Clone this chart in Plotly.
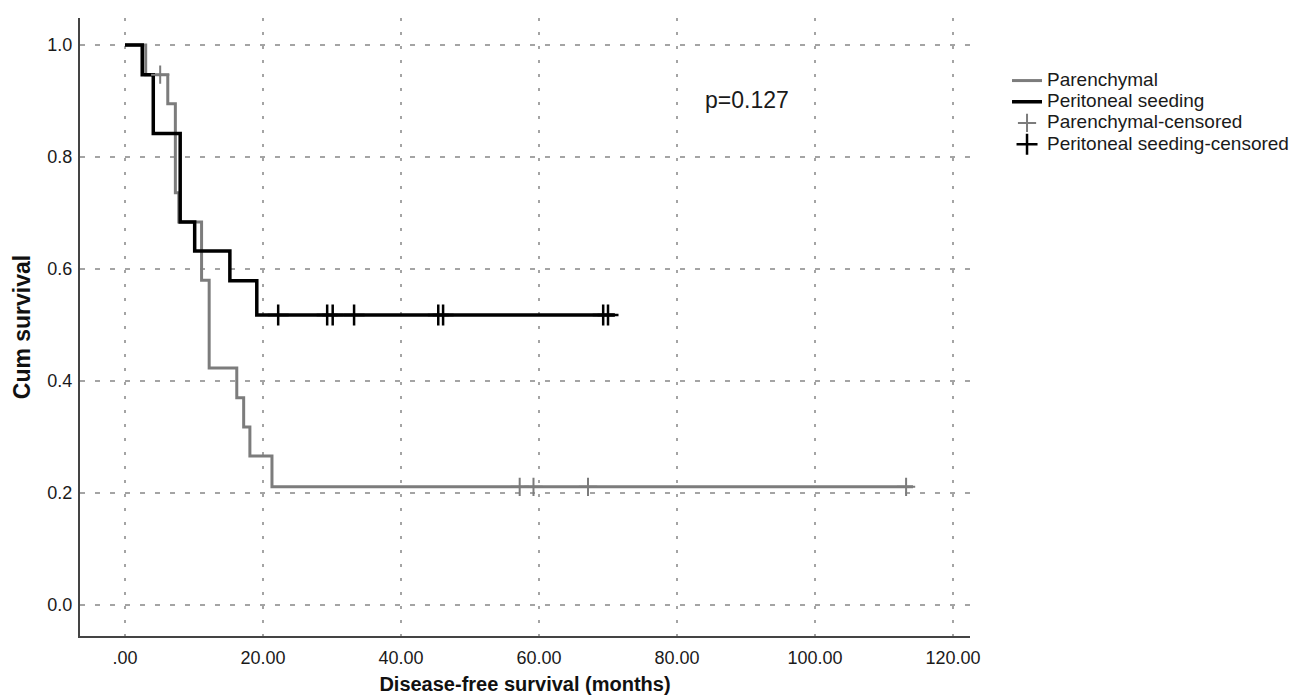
import plotly.graph_objects as go

# Parenchymal group (Kaplan-Meier steps)
par_times = [0.0, 3.0, 6.2, 7.3, 7.8, 11.1, 12.2, 16.2, 17.2, 18.1, 21.3]
par_surv = [1.0, 0.947, 0.895, 0.736, 0.684, 0.580, 0.423, 0.370, 0.318, 0.266, 0.211]
par_end = 114.2
par_cens_t = [5.1, 57.2, 59.2, 67.1, 113.2]
par_cens_s = [0.947, 0.211, 0.211, 0.211, 0.211]

# Peritoneal seeding group
per_times = [0.0, 2.5, 4.1, 8.0, 10.1, 15.2, 19.1]
per_surv = [1.0, 0.947, 0.842, 0.684, 0.632, 0.579, 0.518]
per_end = 71.0
per_cens_t = [22.2, 29.3, 30.1, 33.2, 45.4, 46.1, 69.3, 70.0]
per_cens_s = [0.518] * 8

x_ticks = [0, 20, 40, 60, 80, 100, 120]
x_labels = [".00", "20.00", "40.00", "60.00", "80.00", "100.00", "120.00"]
y_ticks = [0.0, 0.2, 0.4, 0.6, 0.8, 1.0]
y_labels = ["0.0", "0.2", "0.4", "0.6", "0.8", "1.0"]

GRAY = "#7c7c7c"
BLACK = "#000000"
FONT = "Liberation Sans"
TXT = "#1a1a1a"


def legend_name(s):
    return "<span style='font-size:19px'>" + s + "</span>"


fig = go.Figure()
fig.add_trace(go.Scatter(x=par_times + [par_end], y=par_surv + [par_surv[-1]],
                         mode="lines", line=dict(color=GRAY, width=3, shape="hv"),
                         name=legend_name("Parenchymal")))
fig.add_trace(go.Scatter(x=per_times + [per_end], y=per_surv + [per_surv[-1]],
                         mode="lines", line=dict(color=BLACK, width=3.5, shape="hv"),
                         name=legend_name("Peritoneal seeding")))
fig.add_trace(go.Scatter(x=par_cens_t, y=par_cens_s, mode="markers",
                         marker=dict(symbol="cross-thin", size=13,
                                     line=dict(color=GRAY, width=2)),
                         name=legend_name("Parenchymal-censored")))
fig.add_trace(go.Scatter(x=per_cens_t, y=per_cens_s, mode="markers",
                         marker=dict(symbol="cross-thin", size=15,
                                     line=dict(color=BLACK, width=2.5)),
                         name=legend_name("Peritoneal seeding-censored")))

fig.add_annotation(x=90.1, y=0.902, text="p=0.127", showarrow=False,
                   font=dict(family=FONT, size=23, color=TXT))

# page body has an 8px default margin, margins compensate for it
fig.update_layout(
    width=1314, height=696,
    margin=dict(l=72, r=352, t=10, b=68),
    plot_bgcolor="white", paper_bgcolor="white",
    font=dict(family=FONT, color=TXT),
    showlegend=True,
    legend=dict(x=1.0416, y=0.924, xanchor="left", yanchor="top",
                font=dict(family=FONT, size=14, color=TXT),
                tracegroupgap=0, itemwidth=30, bgcolor="rgba(0,0,0,0)"),
)
fig.update_xaxes(range=[-6.52, 122.46], tickvals=x_ticks, ticktext=x_labels,
                 automargin=False,
                 showgrid=True, gridcolor="#a4a4a4", griddash="3px,11px", gridwidth=1.5,
                 zeroline=False, showline=True, linecolor="#444", linewidth=2,
                 ticks="outside", ticklen=4, tickcolor="rgba(0,0,0,0)",
                 tickfont=dict(family=FONT, size=18, color=TXT),
                 title=dict(text="<b>Disease-free survival (months)</b>",
                            font=dict(family=FONT, size=20, color="#111"), standoff=10))
fig.update_yaxes(range=[-0.0554, 1.0482], tickvals=y_ticks, ticktext=y_labels,
                 automargin=False,
                 showgrid=True, gridcolor="#a4a4a4", griddash="5px,10px", gridwidth=1.5,
                 zeroline=False, showline=True, linecolor="#444", linewidth=2,
                 ticks="outside", ticklen=2, tickcolor="rgba(0,0,0,0)",
                 tickfont=dict(family=FONT, size=18, color=TXT),
                 title=dict(text="<b>Cum survival</b>",
                            font=dict(family=FONT, size=23, color="#111"), standoff=10))

fig.write_html("out.html")
